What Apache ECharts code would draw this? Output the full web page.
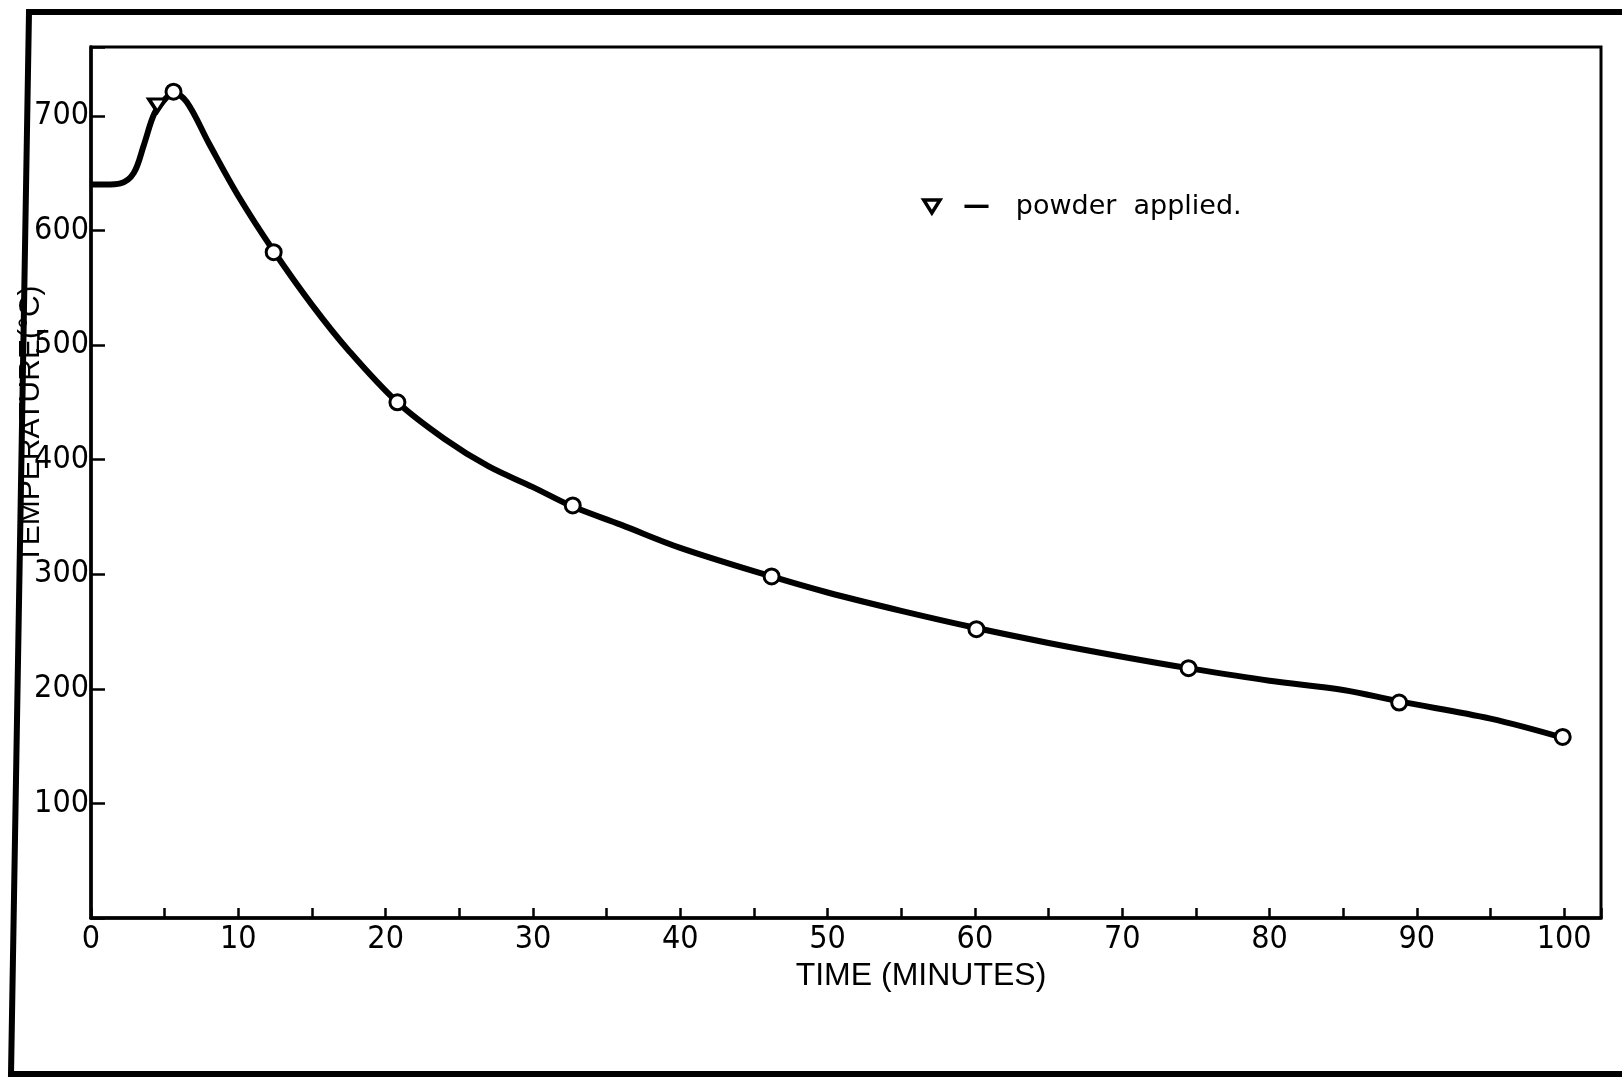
<!DOCTYPE html>
<html lang="en">
<head>
    <meta charset="utf-8">
    <title>Temperature vs time</title>
    <script src="https://cdn.jsdelivr.net/npm/echarts@6/dist/echarts.min.js"></script>
    <style>
        html, body { margin: 0; padding: 0; background: #fff; }
        #main { width: 1622px; height: 1077px; }
    </style>
</head>
<body>
<div id="main"></div>
<script type="text/javascript">
    // cooling curve as drawn (minutes, deg C)
    var curveTime = [0, 1, 2, 2.9, 3.6, 4.3, 5, 5.6, 6.5, 8, 10, 12.4, 15, 17.5, 20.8, 24, 27, 30, 32.7, 36, 40, 46.2, 50, 55, 60.1, 65, 70, 74.5, 80, 85, 88.8, 95, 100];
    var curveTemp = [640, 640, 641, 650, 675, 702, 714, 720, 712, 676, 630, 582, 535, 495, 450, 418, 394, 376, 359, 343, 323, 298, 284, 268, 253, 240, 228, 218, 207, 199, 189, 174, 157];

    // readings (open circles)
    var pointTime = [5.6, 12.4, 20.8, 32.7, 46.2, 60.1, 74.5, 88.8, 99.9];
    var pointTemp = [721, 581, 450, 360, 298, 252, 218, 188, 158];

    // powder applied (triangle)
    var powderTime = [4.5];
    var powderTemp = [709];

    var xLabels = [0, 10, 20, 30, 40, 50, 60, 70, 80, 90, 100];
    var yLabels = [100, 200, 300, 400, 500, 600, 700];

    function pairs(xs, ys) {
        var out = [];
        for (var i = 0; i < xs.length; i++) {
            out.push([xs[i], ys[i]]);
        }
        return out;
    }

    var tri = 'path://M0,0L10,0L5,8Z';
    var numFont = '"Liberation Sans Narrow", "DejaVu Sans Condensed", sans-serif';

    var myChart = echarts.init(document.getElementById('main'));
    myChart.setOption({
        backgroundColor: '#fff',
        animation: false,
        grid: {
            left: 91, right: 21, top: 47, bottom: 159,
            containLabel: false, outerBoundsMode: 'none',
            show: true, borderColor: '#000', borderWidth: 3,
            backgroundColor: 'transparent'
        },
        legend: {
            left: 917, top: 188,
            icon: tri,
            itemWidth: 18, itemHeight: 13,
            itemStyle: { color: '#fff', borderColor: '#000', borderWidth: 3.5, opacity: 1 },
            data: ['powder applied'],
            formatter: function () { return '  {d|\u2014}   powder  applied.'; },
            textStyle: {
                color: '#000', fontSize: 27, fontFamily: '"DejaVu Sans", sans-serif',
                rich: { d: { fontSize: 27, fontWeight: 'bold', color: '#000' } }
            }
        },
        xAxis: {
            type: 'value', min: 0, max: 102.5, interval: 5,
            name: 'TIME (MINUTES)', nameLocation: 'middle', nameGap: 42,
            nameMoveOverlap: false,
            nameTextStyle: { color: '#000', fontSize: 32, fontFamily: '"Liberation Sans", sans-serif', padding: [0, 0, 0, 150] },
            axisLine: { lineStyle: { color: '#000', width: 3.5 } },
            axisTick: { inside: true, length: 10, lineStyle: { color: '#000', width: 2.5 } },
            axisLabel: {
                color: '#000', fontSize: 32, fontFamily: numFont, margin: 6,
                formatter: function (v) { return xLabels.indexOf(v) >= 0 ? String(v) : ''; }
            },
            splitLine: { show: false }
        },
        yAxis: {
            type: 'value', min: 0, max: 760, interval: 100,
            name: 'TEMPERATURE(\u00b0C)', nameLocation: 'middle', nameGap: 45, nameRotate: 90,
            nameMoveOverlap: false,
            nameTextStyle: { color: '#000', fontSize: 30, fontFamily: '"Liberation Sans", sans-serif', padding: [0, 0, 0, 116] },
            axisLine: { lineStyle: { color: '#000', width: 3.5 } },
            axisTick: { inside: true, length: 14, lineStyle: { color: '#000', width: 2.5 } },
            axisLabel: {
                color: '#000', fontSize: 32, fontFamily: numFont, margin: 2,
                formatter: function (v) { return yLabels.indexOf(v) >= 0 ? String(v) : ''; }
            },
            splitLine: { show: false }
        },
        graphic: [{
            type: 'polyline',
            shape: { points: [[1622, 12], [29, 12], [11, 1074], [1622, 1074]] },
            style: { stroke: '#000', lineWidth: 6, fill: null }
        }],
        series: [
            {
                name: 'curve', type: 'line', data: pairs(curveTime, curveTemp),
                smooth: 0.35, symbol: 'none', z: 2,
                lineStyle: { color: '#000', width: 6 }
            },
            {
                name: 'readings', type: 'scatter', data: pairs(pointTime, pointTemp),
                symbol: 'circle', symbolSize: 15, z: 3,
                itemStyle: { color: '#fff', borderColor: '#000', borderWidth: 3, opacity: 1 }
            },
            {
                name: 'powder applied', type: 'scatter', data: pairs(powderTime, powderTemp),
                symbol: tri, symbolSize: [17, 13], z: 4,
                itemStyle: { color: '#fff', borderColor: '#000', borderWidth: 3.5, opacity: 1 }
            }
        ]
    });
</script>
</body>
</html>
